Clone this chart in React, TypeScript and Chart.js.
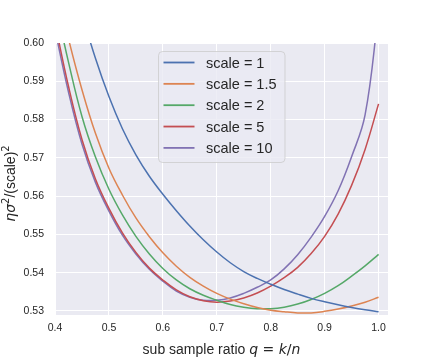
import React, { useEffect, useRef } from "react";
import { Chart, registerables } from "chart.js";

Chart.register(...registerables);

// sub sample ratio q = k/n
const Q = [
  0.4, 0.425, 0.45, 0.475, 0.5, 0.525, 0.55, 0.575, 0.6, 0.625, 0.65, 0.675, 0.7,
  0.725, 0.75, 0.775, 0.8, 0.825, 0.85, 0.875, 0.9, 0.925, 0.95, 0.975, 1.0,
];

const SCALE_1 = [
  0.637, 0.621, 0.6077, 0.596, 0.586, 0.5776, 0.5708, 0.5652, 0.5605, 0.5562, 0.5522,
  0.5486, 0.5454, 0.5426, 0.5403, 0.5385, 0.537, 0.5356, 0.5344, 0.5333, 0.5324, 0.5316,
  0.5309, 0.5303, 0.5298,
];
const SCALE_1_5 = [
  0.6162, 0.6011, 0.5878, 0.5764, 0.5673, 0.5603, 0.5543, 0.5494, 0.5452, 0.5417, 0.5388,
  0.5365, 0.5346, 0.5331, 0.5319, 0.5309, 0.5302, 0.5298, 0.5295, 0.5295, 0.5299, 0.5305,
  0.5313, 0.5323, 0.5336,
];
const SCALE_2 = [
  0.6109, 0.595, 0.5808, 0.5702, 0.5618, 0.5551, 0.5495, 0.5449, 0.5411, 0.5381, 0.5358,
  0.5341, 0.5328, 0.5317, 0.531, 0.5306, 0.5306, 0.531, 0.5318, 0.533, 0.5346, 0.5366,
  0.5391, 0.5418, 0.5448,
];
const SCALE_5 = [
  0.6052, 0.5887, 0.5748, 0.5645, 0.5568, 0.5504, 0.5453, 0.5412, 0.5381, 0.5355, 0.5337,
  0.5327, 0.5323, 0.5326, 0.5334, 0.5347, 0.5365, 0.5387, 0.5414, 0.545, 0.5495, 0.5553,
  0.5628, 0.5722, 0.5841,
];
const SCALE_10 = [
  0.6035, 0.5872, 0.5736, 0.5636, 0.5561, 0.5498, 0.5449, 0.5409, 0.5378, 0.5352, 0.5336,
  0.5328, 0.5328, 0.5334, 0.5346, 0.5362, 0.5381, 0.541, 0.5447, 0.5493, 0.5547, 0.5614,
  0.5703, 0.5812, 0.608,
];

const SERIES = [SCALE_1, SCALE_1_5, SCALE_2, SCALE_5, SCALE_10];
const SERIES_LABELS = ["scale = 1", "scale = 1.5", "scale = 2", "scale = 5", "scale = 10"];
const SERIES_COLORS = ["#4C72B0", "#DD8452", "#55A868", "#C44E52", "#8172B3"];

const X_TICKS = [0.4, 0.5, 0.6, 0.7, 0.8, 0.9, 1.0];
const Y_TICKS = [0.53, 0.54, 0.55, 0.56, 0.57, 0.58, 0.59, 0.6];
const X_MIN = 0.4;
const X_MAX = 1.0175;
const Y_MIN = 0.52895;
const Y_MAX = 0.6;

const TEXT_COLOR = "#262626";
const SANS = "'Liberation Sans', Arial, sans-serif";
const MATH = "'DejaVu Sans', sans-serif";

type Run = { t: string; f: string; dy?: number };

function drawRuns(ctx: CanvasRenderingContext2D, runs: Run[], cx: number, baseY: number) {
  let total = 0;
  const widths = runs.map((r) => {
    ctx.font = r.f;
    const w = ctx.measureText(r.t).width;
    total += w;
    return w;
  });
  let x = cx - total / 2;
  ctx.textAlign = "left";
  ctx.textBaseline = "alphabetic";
  runs.forEach((r, i) => {
    ctx.font = r.f;
    ctx.fillText(r.t, x, baseY + (r.dy || 0));
    x += widths[i];
  });
}

const backgroundPlugin = {
  id: "axesBackground",
  beforeDraw(chart: any) {
    const { ctx, chartArea } = chart;
    ctx.save();
    ctx.fillStyle = "#EAEAF2";
    ctx.fillRect(chartArea.left, chartArea.top, chartArea.right - chartArea.left, chartArea.bottom - chartArea.top);
    ctx.restore();
  },
};

const titlesPlugin = {
  id: "axisTitles",
  afterDraw(chart: any) {
    const { ctx, chartArea } = chart;
    ctx.save();
    ctx.fillStyle = TEXT_COLOR;
    const xRuns: Run[] = [
      { t: "sub sample ratio ", f: `14px ${SANS}` },
      { t: "q", f: `italic 14px ${MATH}` },
      { t: " = ", f: `14px ${MATH}` },
      { t: "k", f: `italic 14px ${MATH}` },
      { t: "/", f: `14px ${MATH}` },
      { t: "n", f: `italic 14px ${MATH}` },
    ];
    drawRuns(ctx, xRuns, (chartArea.left + chartArea.right) / 2, 353.5);
    ctx.translate(14.5, 183.5);
    ctx.rotate(-Math.PI / 2);
    const yRuns: Run[] = [
      { t: "ησ", f: `italic 14px ${MATH}` },
      { t: "2", f: `10px ${MATH}`, dy: -6 },
      { t: "/(scale)", f: `14px ${SANS}` },
      { t: "2", f: `10px ${MATH}`, dy: -6 },
    ];
    drawRuns(ctx, yRuns, 0, 0);
    ctx.restore();
  },
};

const legendPlugin = {
  id: "insideLegend",
  afterDraw(chart: any) {
    const { ctx } = chart;
    const x0 = 158.5;
    const y0 = 51.5;
    const w = 126.5;
    const h = 111;
    ctx.save();
    ctx.beginPath();
    ctx.roundRect(x0, y0, w, h, 4);
    ctx.fillStyle = "rgba(234,234,242,0.8)";
    ctx.fill();
    ctx.strokeStyle = "rgba(204,204,204,0.8)";
    ctx.lineWidth = 1;
    ctx.stroke();
    chart.data.datasets.forEach((ds: any, i: number) => {
      const y = 62.5 + i * 21.35;
      ctx.beginPath();
      ctx.moveTo(163.5, y);
      ctx.lineTo(194.5, y);
      ctx.strokeStyle = ds.borderColor;
      ctx.lineWidth = 1.8;
      ctx.stroke();
      ctx.fillStyle = TEXT_COLOR;
      ctx.font = `14.5px ${SANS}`;
      ctx.textAlign = "left";
      ctx.textBaseline = "middle";
      ctx.fillText(ds.label, 206, y + 1);
    });
    ctx.restore();
  },
};

export default function App() {
  const canvasRef = useRef<HTMLCanvasElement | null>(null);

  useEffect(() => {
    if (!canvasRef.current) return;
    const chart = new Chart(canvasRef.current, {
      type: "line",
      data: {
        datasets: SERIES.map((vals, i) => ({
          label: SERIES_LABELS[i],
          data: Q.map((q, j) => ({ x: q, y: vals[j] })),
          borderColor: SERIES_COLORS[i],
          backgroundColor: SERIES_COLORS[i],
          borderWidth: 1.5,
          pointRadius: 0,
          tension: 0.4,
          fill: false,
          clip: 0,
        })),
      },
      plugins: [backgroundPlugin, titlesPlugin, legendPlugin],
      options: {
        responsive: false,
        devicePixelRatio: 1,
        animation: false,
        layout: { padding: { left: 0, top: 43, right: 44, bottom: 0 } },
        plugins: {
          legend: { display: false },
          tooltip: { enabled: false },
        },
        scales: {
          x: {
            type: "linear",
            min: X_MIN,
            max: X_MAX,
            afterBuildTicks: (s: any) => {
              s.ticks = X_TICKS.map((v) => ({ value: v }));
            },
            afterFit: (s: any) => {
              s.height = 45;
            },
            ticks: {
              autoSkip: false,
              maxRotation: 0,
              padding: 7,
              color: TEXT_COLOR,
              font: { family: SANS, size: 10.5 },
              callback: (v: any) => Number(v).toFixed(1),
            },
            grid: { color: "#ffffff", lineWidth: 1, drawTicks: false },
            border: { display: false },
          },
          y: {
            type: "linear",
            min: Y_MIN,
            max: Y_MAX,
            afterBuildTicks: (s: any) => {
              s.ticks = Y_TICKS.map((v) => ({ value: v }));
            },
            afterFit: (s: any) => {
              s.width = 55;
            },
            ticks: {
              autoSkip: false,
              padding: 11,
              color: TEXT_COLOR,
              font: { family: SANS, size: 10.5 },
              callback: (v: any) => Number(v).toFixed(2),
            },
            grid: { color: "#ffffff", lineWidth: 1, drawTicks: false },
            border: { display: false },
          },
        },
      },
    });
    return () => chart.destroy();
  }, []);

  return (
    <div style={{ position: "fixed", left: 0, top: 0, width: 432, height: 360, background: "#ffffff" }}>
      <canvas ref={canvasRef} width={432} height={360} style={{ display: "block" }} />
    </div>
  );
}
